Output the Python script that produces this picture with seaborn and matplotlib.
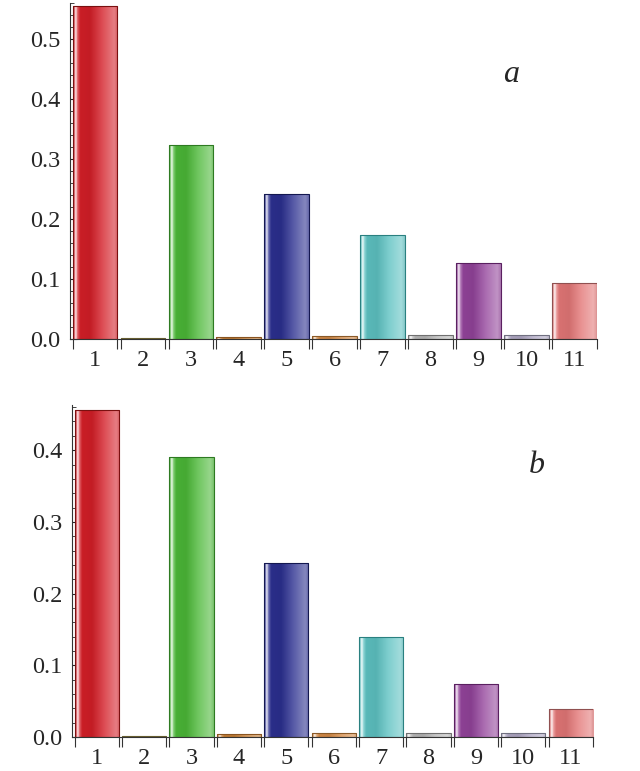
import matplotlib
matplotlib.use("Agg")
import matplotlib.pyplot as plt
import matplotlib.colors as mcolors
import numpy as np
import pandas as pd
import seaborn as sns

# data
categories = [str(i) for i in range(1, 12)]
values_a = [0.555, 0.002, 0.323, 0.004, 0.242, 0.005, 0.173, 0.007, 0.127, 0.007, 0.093]
values_b = [0.456, 0.002, 0.390, 0.004, 0.243, 0.005, 0.139, 0.005, 0.074, 0.005, 0.039]
bar_colors = ["#d41f28", "#958a52", "#4cb838", "#c98238", "#2c3090", "#d68c48",
              "#5ec2c2", "#b8b8b8", "#93449b", "#b0a8c4", "#e37777"]
edge_colors = ["#7a1010", "#6a6030", "#2e7a22", "#8a5420", "#141850", "#8a5a28",
               "#2a8080", "#707070", "#5a2060", "#707080", "#905050"]

sns.set_style("white")
plt.rcParams['font.family'] = ['Liberation Serif', 'DejaVu Serif']


def gradient_row(color, n=300):
    c = np.array(mcolors.to_rgb(color))
    # position, white amount, black amount
    pts = np.array([
        [0.00, 0.00, 0.25],
        [0.03, 0.30, 0.00],
        [0.06, 0.95, 0.00],
        [0.10, 0.30, 0.00],
        [0.16, 0.00, 0.05],
        [0.38, 0.00, 0.08],
        [0.65, 0.20, 0.00],
        [0.92, 0.42, 0.00],
        [1.00, 0.30, 0.05],
    ])
    t = np.linspace(0, 1, n)
    w = np.interp(t, pts[:, 0], pts[:, 1])
    b = np.interp(t, pts[:, 0], pts[:, 2])
    rgb = c[None, :] * (1 - w[:, None]) + w[:, None]
    rgb = rgb * (1 - b[:, None])
    return rgb[None, :, :]


def draw_panel(ax, values, ymax, major, letter, lx, ly):
    df = pd.DataFrame({"cat": categories, "val": values})
    sns.barplot(data=df, x="cat", y="val", hue="cat", palette=bar_colors,
                width=0.93, legend=False, ax=ax, saturation=1)
    edges = []
    for p, col, ec in zip(ax.patches, bar_colors, edge_colors):
        x0, w, h = p.get_x(), p.get_width(), p.get_height()
        im = ax.imshow(gradient_row(col), extent=[x0, x0 + w, 0, h],
                       aspect='auto', interpolation='bilinear',
                       zorder=p.get_zorder() - 0.05)
        im.set_clip_path(p)
        p.set_facecolor('none')
        p.set_edgecolor(ec)
        p.set_linewidth(0.8)
        edges += [x0, x0 + w]
    ax.set_xlim(-0.52, 10.47)
    ax.set_ylim(0, ymax)
    ax.set_xlabel("")
    ax.set_ylabel("")
    ax.set_yticks(major)
    ax.set_yticklabels(["%.1f" % v for v in major])
    ax.set_yticks(np.arange(0, ymax, 0.02), minor=True)
    ax.set_xticks(edges, minor=True)
    ax.tick_params(axis='x', which='major', length=0, pad=8, labelsize=17.5)
    ax.tick_params(axis='x', which='minor', length=7, width=0.8,
                   direction='out', color='#333333', bottom=True)
    ax.tick_params(axis='y', which='major', length=5, width=0.8,
                   direction='in', left=True, pad=7, labelsize=17.5)
    ax.tick_params(axis='y', which='minor', length=3, width=0.6,
                   direction='in', left=True)
    for s in ['top', 'right']:
        ax.spines[s].set_visible(False)
    for s in ['left', 'bottom']:
        ax.spines[s].set_color('#333333')
        ax.spines[s].set_linewidth(0.8)
    ax.text(lx, ly, letter, transform=ax.transAxes, fontsize=23,
            style='italic', ha='center', va='center')


fig = plt.figure(figsize=(6.4, 7.71), dpi=100)
ax_a = fig.add_axes([70 / 640, 432 / 771, 527 / 640, 336 / 771])
ax_b = fig.add_axes([72 / 640, 34 / 771, 521 / 640, 332 / 771])

draw_panel(ax_a, values_a, 0.56, [0.0, 0.1, 0.2, 0.3, 0.4, 0.5], "a", 0.837, 0.786)
draw_panel(ax_b, values_b, 0.463, [0.0, 0.1, 0.2, 0.3, 0.4], "b", 0.892, 0.819)

fig.savefig("out.png", dpi=100)
